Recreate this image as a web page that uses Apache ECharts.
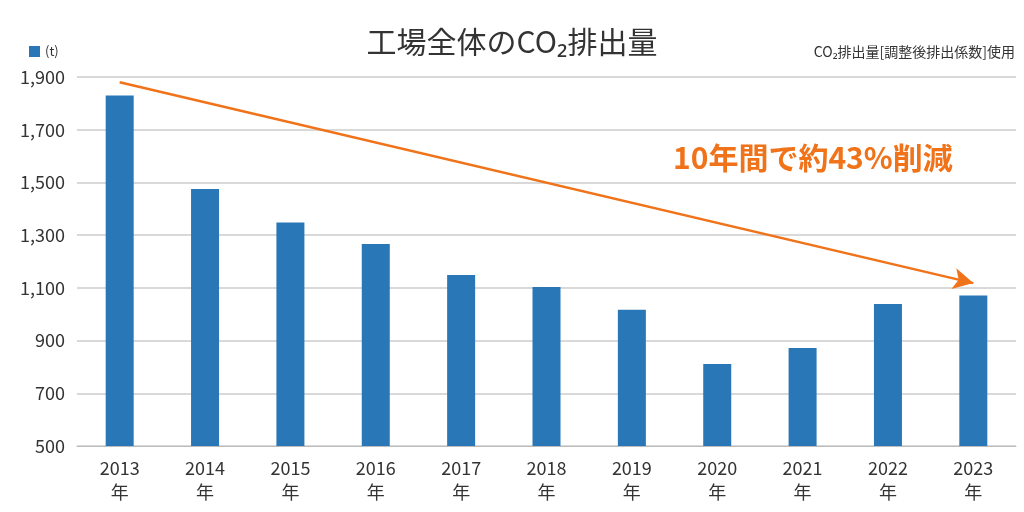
<!DOCTYPE html>
<html><head><meta charset="utf-8">
<script src="https://cdn.jsdelivr.net/npm/echarts@6/dist/echarts.min.js"></script>
<style>html,body{margin:0;padding:0;background:#fff}#c{width:1024px;height:512px}</style>
</head><body><div id="c"></div>
<script>
const categories = ['2013','2014','2015','2016','2017','2018','2019','2020','2021','2022','2023'];
const values = [1830,1475,1348,1266,1149,1103,1017,811,872,1039,1071];
const yTicks = [500,700,900,1100,1300,1500,1700,1900];
const F = '"Noto Sans CJK JP","Noto Sans",sans-serif';
const chart = echarts.init(document.getElementById('c'));
chart.setOption({
  animation:false,
  title:[
    {text:'工場全体のCO₂排出量',left:'center',top:22,textStyle:{fontFamily:F,fontSize:30,fontWeight:'normal',color:'#333'}},
    {text:'CO₂排出量[調整後排出係数]使用',right:4,top:40,textStyle:{fontFamily:F,fontSize:14,fontWeight:'normal',color:'#333'}},
    {text:'10年間で約43%削減',left:668,top:138,textStyle:{fontFamily:F,fontSize:30,fontWeight:'bold',color:'#f07219'}}
  ],
  legend:{left:24,top:40,itemWidth:11,itemHeight:11,icon:'rect',textStyle:{fontFamily:F,fontSize:13,color:'#333'},data:['(t)']},
  grid:{left:77,right:8,top:77,bottom:66,containLabel:false},
  xAxis:{type:'category',data:categories,
    axisLine:{lineStyle:{color:'#bbb'}},axisTick:{show:false},
    axisLabel:{fontFamily:F,fontSize:18,color:'#333',lineHeight:24,margin:10,formatter:v=>v+'\n年'}},
  yAxis:{type:'value',min:500,max:1900,interval:200,
    splitLine:{lineStyle:{color:'#ccc',width:1.5}},axisLine:{show:false},axisTick:{show:false},
    axisLabel:{fontFamily:F,fontSize:18,color:'#333',margin:12,formatter:v=>v.toLocaleString('en-US')}},
  series:[{name:'(t)',type:'bar',data:values,barWidth:28,itemStyle:{color:'#2a77b8'},
    markLine:{silent:true,symbol:['none','arrow'],symbolSize:[16,20],label:{show:false},
      lineStyle:{color:'#f07219',width:2.5,type:'solid'},
      data:[[{coord:['2013',1880]},{coord:['2023',1118]}]]}}]
});
</script></body></html>
